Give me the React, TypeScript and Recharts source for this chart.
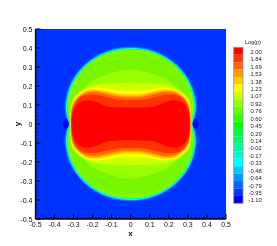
import React from "react";
import { ScatterChart, Scatter, XAxis, YAxis, CartesianGrid } from "recharts";

type P = [number, number];

// colour bar
const levelLabels = ["2.00","1.84","1.69","1.53","1.38","1.23","1.07","0.92","0.76","0.60","0.45","0.29","0.14","-0.02","-0.17","-0.33","-0.48","-0.64","-0.79","-0.95","-1.10"];
const levelColors = ["#ff0000","#ff3300","#ff6600","#ff9900","#ffcc00","#ffff00","#ccff00","#99ff00","#66ff00","#33ff00","#00ff00","#00ff33","#00ff66","#00ff99","#00ffcc","#00ffff","#00ccff","#0099ff","#0066ff","#0033ff","#0000ff"];

// axis ticks
const majorTicks = [-0.5,-0.4,-0.3,-0.2,-0.1,0,0.1,0.2,0.3,0.4,0.5];
const minorTicks = [-0.48,-0.46,-0.44,-0.42,-0.38,-0.36,-0.34,-0.32,-0.28,-0.26,-0.24,-0.22,-0.18,-0.16,-0.14,-0.12,-0.08,-0.06,-0.04,-0.02,0.02,0.04,0.06,0.08,0.12,0.14,0.16,0.18,0.22,0.24,0.26,0.28,0.32,0.34,0.36,0.38,0.42,0.44,0.46,0.48];

// contour lines, upper right quadrant
const shockFront: P[] = [[0,.392],[.06,.387],[.12,.372],[.18,.343],[.235,.302],[.283,.245],[.315,.182],[.329,.125],[.332,.085],[.328,.05],[.32,.02],[.318,0]];
const shockRing: P[] = [[0,.385],[.06,.38],[.12,.365],[.18,.336],[.23,.295],[.277,.24],[.308,.178],[.322,.122],[.325,.085],[.322,.05],[.316,.02],[.314,0]];
const contour092: P[] = [[0,.287],[.075,.276],[.13,.258],[.18,.24],[.225,.208],[.265,.172],[.293,.15],[.31,.125],[.316,.08],[.318,0]];
const contour107: P[] = [[0,.217],[.08,.213],[.15,.21],[.21,.2],[.26,.172],[.29,.148],[.307,.12],[.314,.08],[.317,0]];
const contour123: P[] = [[0,.178],[.06,.176],[.12,.186],[.18,.192],[.24,.178],[.276,.152],[.30,.126],[.311,.095],[.315,.05],[.316,0]];
const contour138: P[] = [[0,.157],[.06,.158],[.12,.172],[.18,.182],[.232,.176],[.268,.154],[.294,.128],[.308,.098],[.313,.06],[.315,0]];
const contour153: P[] = [[0,.148],[.06,.15],[.12,.163],[.18,.175],[.228,.171],[.262,.152],[.29,.126],[.305,.097],[.312,.06],[.314,0]];
const contour169: P[] = [[0,.14],[.06,.142],[.12,.155],[.18,.167],[.225,.163],[.258,.15],[.285,.128],[.302,.097],[.311,.06],[.313,0]];
const contour184: P[] = [[0,.126],[.06,.128],[.12,.14],[.18,.152],[.225,.152],[.255,.146],[.28,.125],[.298,.095],[.308,.06],[.312,0]];
const contour200: P[] = [[0,.086],[.08,.088],[.13,.093],[.17,.11],[.205,.122],[.235,.124],[.262,.117],[.285,.098],[.302,.065],[.309,.035],[.31,0]];
const voidRight: P[] = [[.34,.027],[.352,.015],[.356,0],[.352,-.015],[.34,-.027],[.328,-.015],[.324,0],[.328,.015]];
const voidLeft: P[] = [[-.34,.027],[-.328,.015],[-.324,0],[-.328,-.015],[-.34,-.027],[-.352,-.015],[-.356,0],[-.352,.015]];

const mirror = (q: P[]) => {
  const out: { x: number; y: number }[] = q.map(([x, y]) => ({ x, y }));
  const r = [...q].reverse();
  r.slice(r[0][1] === 0 ? 1 : 0).forEach(([x, y]) => out.push({ x, y: -y }));
  q.slice(q[0][0] === 0 ? 1 : 0).forEach(([x, y]) => out.push({ x: -x, y: -y }));
  r.slice(r[0][1] === 0 ? 1 : 0, r[r.length - 1][0] === 0 ? -1 : undefined).forEach(([x, y]) => out.push({ x: -x, y }));
  return out;
};
const raw = (q: P[]) => q.map(([x, y]) => ({ x, y }));

// closed Catmull-Rom path through the scaled points
const smooth = (pts: { x: number; y: number }[]) => {
  const n = pts.length;
  let d = `M${pts[0].x},${pts[0].y}`;
  for (let i = 0; i < n; i++) {
    const p0 = pts[(i - 1 + n) % n], p1 = pts[i], p2 = pts[(i + 1) % n], p3 = pts[(i + 2) % n];
    d += `C${p1.x + (p2.x - p0.x) / 6},${p1.y + (p2.y - p0.y) / 6} ${p2.x - (p3.x - p1.x) / 6},${p2.y - (p3.y - p1.y) / 6} ${p2.x},${p2.y}`;
  }
  return d + "Z";
};

const noDot = () => <g />;
const blob = (fill: string, stroke = "none", width = 0) => (p: any) => (
  <path d={smooth(p.points)} fill={fill} stroke={stroke} strokeWidth={width} strokeLinejoin="round" />
);

const FONT = "'Liberation Sans', Arial, sans-serif";
const isMajor = (v: number) => majorTicks.includes(v);

const XTick = (p: any) => {
  const v = p.payload.value;
  const top = p.y;
  return (
    <g>
      <line x1={p.x} x2={p.x} y1={top} y2={top - (isMajor(v) ? 5 : 2)} stroke="#000" strokeWidth={isMajor(v) ? 1 : 0.5} />
      {isMajor(v) && <text x={p.x} y={top + 7.5} textAnchor="middle" fontSize={7} fontFamily={FONT} fill="#111">{v}</text>}
    </g>
  );
};
const YTick = (p: any) => {
  const v = p.payload.value;
  return (
    <g>
      <line x1={p.x} x2={p.x + (isMajor(v) ? 5 : 2)} y1={p.y} y2={p.y} stroke="#000" strokeWidth={isMajor(v) ? 1 : 0.5} />
      {isMajor(v) && <text x={p.x - 3} y={p.y + 2.5} textAnchor="end" fontSize={7} fontFamily={FONT} fill="#111">{v}</text>}
    </g>
  );
};

const series: [P[], string][] = [
  [contour092, "#99ff00"],
  [contour107, "#ccff00"],
  [contour123, "#ffff00"],
  [contour138, "#ffcc00"],
  [contour153, "#ff9900"],
  [contour169, "#ff6600"],
  [contour184, "#ff3300"],
  [contour200, "#ff0000"],
];
const allTicks = [...majorTicks, ...minorTicks].sort((a, b) => a - b);

export default function App() {
  return (
    <div style={{ position: "absolute", left: 0, top: 0, width: 277, height: 246, background: "#fff", filter: "blur(0.4px)" }}>
      <ScatterChart width={277} height={246} margin={{ top: 29, right: 51, bottom: 0, left: 0 }}>
        <CartesianGrid horizontal={false} vertical={false} fill="#0033ff" stroke="none" />
        <XAxis type="number" dataKey="x" domain={[-0.5, 0.5]} ticks={allTicks} interval={0} height={27} tickSize={0} tickMargin={0} tickLine={false} tick={<XTick />} stroke="#000" strokeWidth={1.3} allowDataOverflow />
        <YAxis type="number" dataKey="y" domain={[-0.5, 0.5]} ticks={allTicks} interval={0} width={35.5} tickSize={0} tickMargin={0} tickLine={false} tick={<YTick />} stroke="#000" strokeWidth={1.3} allowDataOverflow />

        <Scatter data={mirror(shockFront)} isAnimationActive={false} shape={noDot} line={blob("#0066ff", "#0066ff", 6)} />
        <Scatter data={mirror(shockFront)} isAnimationActive={false} shape={noDot} line={blob("#0099ff", "#0099ff", 4.5)} />
        <Scatter data={mirror(shockFront)} isAnimationActive={false} shape={noDot} line={blob("#00ffff", "#00ffff", 3)} />
        <Scatter data={mirror(shockFront)} isAnimationActive={false} shape={noDot} line={blob("#00ff66", "#00ff66", 1.5)} />
        <Scatter data={mirror(shockFront)} isAnimationActive={false} shape={noDot} line={blob("#78f500")} />
        <Scatter data={mirror(shockRing)} isAnimationActive={false} shape={noDot} line={blob("none", "#99ff00", 1)} />
        {series.map(([q, c], i) => (
          <Scatter key={i} data={mirror(q)} isAnimationActive={false} shape={noDot} line={blob(c)} />
        ))}
        <Scatter data={raw(voidRight)} isAnimationActive={false} shape={noDot} line={blob("#0000ff")} />
        <Scatter data={raw(voidLeft)} isAnimationActive={false} shape={noDot} line={blob("#0000ff")} />

        <text x={130.5} y={236} textAnchor="middle" fontSize={8} fontWeight="bold" fontFamily={FONT} fill="#111">x</text>
        <text x={0} y={0} transform="translate(19.5,124) rotate(-90)" textAnchor="middle" fontSize={8} fontWeight="bold" fontFamily={FONT} fill="#111">y</text>

        <text x={253} y={43.5} textAnchor="middle" fontSize={5.5} fontFamily={FONT} fill="#222">Log(p)</text>
        {levelColors.map((c, i) => (
          <rect key={c} x={233.7} y={47.3 + i * 7.43} width={9.3} height={7.43} fill={c} />
        ))}
        <rect x={233.7} y={47.3} width={9.3} height={156} fill="none" stroke="#8a8fc0" strokeWidth={0.8} />
        {levelLabels.map((l, i) => (
          <text key={l} x={261.7} y={53.8 + i * 7.43} textAnchor="end" fontSize={5.8} fontFamily={FONT} fill="#222">{l}</text>
        ))}
      </ScatterChart>
    </div>
  );
}
